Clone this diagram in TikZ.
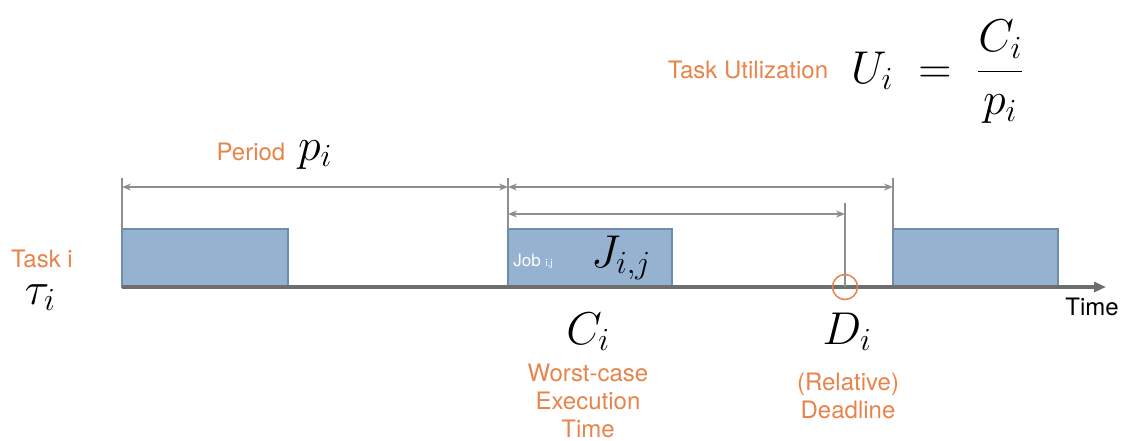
\RequirePackage{fix-cm}
\documentclass[tikz,border=0pt]{standalone}
\usepackage{amsmath}
\usepackage{fontspec}
\setmainfont{TeX Gyre Heros}
\usetikzlibrary{arrows.meta}
\usetikzlibrary{calc}

\definecolor{labelorange}{HTML}{E8834A}
\definecolor{jobfill}{HTML}{95B3D1}
\definecolor{jobedge}{HTML}{6F8CA9}
\definecolor{dimgray}{HTML}{8E8E8E}
\definecolor{axisgray}{HTML}{6E6E6E}

\tikzset{
	jobbox/.style={fill=jobfill, draw=jobedge, line width=1.5pt},
	tick/.style={draw=dimgray, line width=1.2pt},
	span/.style={draw=dimgray, line width=1.3pt, {Stealth[length=9pt,width=7pt]}-{Stealth[length=9pt,width=7pt]}},
	orangelbl/.style={text=labelorange, font=\fontsize{24}{28}\selectfont, anchor=base, inner sep=0pt},
	bigmath/.style={font=\fontsize{46}{52}\selectfont, anchor=base, inner sep=0pt},
}

\begin{document}
\begin{tikzpicture}[x=1pt, y=-1pt]
		\useasboundingbox (0,0) rectangle (1125,440);
		% release times and deadline on the time line
		\coordinate (r0) at (122,287);
		\coordinate (r1) at (508,287);
		\coordinate (r2) at (893,287);
		\coordinate (dl) at (845,287);
		\coordinate (tend) at (1106,287);
		% jobs
		\foreach \s/\e in {122/288, 508/672, 893/1058} {
			\draw [jobbox] (\s,229) rectangle (\e,287);
		}
		% time axis
		\draw [axisgray, line width=3.5pt, -{Triangle[length=12pt,width=10pt]}] (r0) -- (tend);
		\node [anchor=base, font=\fontsize{24}{28}\selectfont, inner sep=0pt] (time) at (1092,315) {Time};
		% ticks
		\foreach \c in {r0, r1, r2} {
			\draw [tick] ($(\c)+(0,-109)$) -- ($(\c)+(0,-58)$);
		}
		\draw [tick] ($(dl)+(0,-84)$) -- (dl);
		% periods and deadline
		\coordinate (p0) at ($(r0)+(0,-100)$);
		\coordinate (p1) at ($(r1)+(0,-100)$);
		\coordinate (p2) at ($(r2)+(0,-100)$);
		\coordinate (d0) at ($(r1)+(0,-73)$);
		\coordinate (d1) at ($(dl)+(0,-73)$);
		\draw [span] (p0) -- (p1);
		\draw [span] (p1) -- (p2);
		\draw [span] (d0) -- (d1);
		\draw [labelorange, line width=1.5pt] (dl) circle (12.5);
		% labels
		\node [orangelbl] (period) at (251,160) {Period};
		\node [bigmath] (pi) at (315,160) {$p_i$};
		\node [orangelbl] (task) at (42,267) {Task i};
		\node [bigmath] (tau) at (40,304) {$\tau_i$};
		\node [anchor=base, text=white, inner sep=0pt, font=\fontsize{17}{20}\selectfont] (job) at (533,266) {Job {\fontsize{10}{12}\selectfont i,j}};
		\node [bigmath] (jij) at (621,267) {$J_{i,j}$};
		\node [bigmath] (ci) at (588,344) {$C_i$};
		\node [bigmath] (di) at (847,344) {$D_i$};
		\node [orangelbl, align=center] (wcet) at (588,437) {Worst-case\\Execution\\Time};
		\node [orangelbl, align=center] (rdl) at (848,418) {(Relative)\\Deadline};
		\node [orangelbl] (util) at (748,78) {Task Utilization};
		\node [bigmath] (ui) at (937,83) {$U_i \;=\; \dfrac{C_i}{p_i}$};
\end{tikzpicture}
\end{document}
